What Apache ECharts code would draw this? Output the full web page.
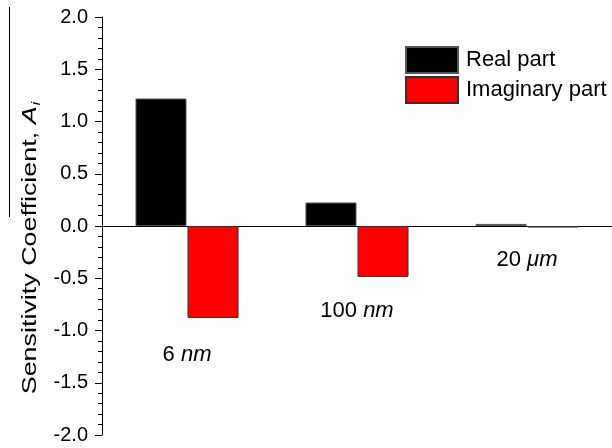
<!DOCTYPE html>
<html>
<head>
<meta charset="utf-8">
<script src="https://cdn.jsdelivr.net/npm/echarts@6/dist/echarts.min.js"></script>
<style>html,body{margin:0;padding:0;background:#fff}#c{width:612px;height:448px}</style>
</head>
<body>
<div id="c"></div>
<script>
var categories = ['6 nm', '100 nm', '20 μm'];
var realPart = [1.22, 0.225, 0.02];
var imagPart = [-0.88, -0.487, -0.015];
var labelNums = ['6', '100', '20'];
var labelUnits = ['nm', 'nm', 'μm'];
var labelY = [-1.23, -0.81, -0.32];
var seriesNames = ['Real part', 'Imaginary part'];

var FONT = 'Liberation Sans, Arial, sans-serif';
var chart = echarts.init(document.getElementById('c'), null, {renderer: 'canvas'});

chart.setOption({
  animation: false,
  backgroundColor: '#fff',
  grid: {left: 102, top: 17, bottom: 13, width: 514},
  legend: {
    orient: 'vertical', left: 405, top: 46, padding: 0,
    itemWidth: 52, itemHeight: 26, itemGap: 2, icon: 'rect',
    textStyle: {fontFamily: FONT, fontSize: 22, color: '#000', padding: [0, 0, 0, 3]},
    data: seriesNames
  },
  xAxis: {
    type: 'category', data: categories,
    axisLine: {onZero: true, lineStyle: {color: '#000', width: 1}},
    axisTick: {show: false}, axisLabel: {show: false}, splitLine: {show: false}
  },
  yAxis: {
    type: 'value', min: -2, max: 2, interval: 0.5,
    axisLine: {show: true, lineStyle: {color: '#000', width: 1}},
    axisTick: {show: true, length: 7, lineStyle: {color: '#000'}},
    minorTick: {show: true, splitNumber: 5, length: 4, lineStyle: {color: '#000'}},
    splitLine: {show: false},
    axisLabel: {fontFamily: FONT, fontSize: 20, color: '#000', margin: 14,
      formatter: function (v) { return v.toFixed(1); }}
  },
  series: [
    {
      name: seriesNames[0], type: 'bar', data: realPart, barWidth: 51, barGap: '2%',
      itemStyle: {color: '#000', borderColor: '#555', borderWidth: 1}
    },
    {
      name: seriesNames[1], type: 'bar', data: imagPart, barWidth: 51, barGap: '2%',
      itemStyle: {color: '#ff0000', borderColor: '#333', borderWidth: 1}
    },
    {
      name: 'labels', type: 'scatter', data: labelY, symbolSize: 0, silent: true,
      itemStyle: {opacity: 1, color: '#000'},
      label: {
        show: true, position: 'inside', color: '#000', opacity: 1,
        formatter: function (p) {
          return '{n|' + labelNums[p.dataIndex] + ' }{u|' + labelUnits[p.dataIndex] + '}';
        },
        rich: {
          n: {fontFamily: FONT, fontSize: 22, color: '#000'},
          u: {fontFamily: FONT, fontSize: 22, fontStyle: 'italic', color: '#000'}
        }
      }
    }
  ],
  graphic: [
    {type: 'line', shape: {x1: 9.5, y1: 7, x2: 9.5, y2: 217}, style: {stroke: '#000', lineWidth: 1}},
    {
      type: 'text', x: 30, y: 248, rotation: Math.PI / 2, scaleX: 1.28,
      style: {
        text: '{a|Sensitivity Coefficient, }{b|A}{c|i}',
        align: 'center', verticalAlign: 'middle',
        rich: {
          a: {fontFamily: FONT, fontSize: 21, fill: '#000', lineHeight: 26},
          b: {fontFamily: FONT, fontSize: 21, fontStyle: 'italic', fill: '#000', lineHeight: 26},
          c: {fontFamily: FONT, fontSize: 12, fontStyle: 'italic', fill: '#000', verticalAlign: 'bottom', lineHeight: 14, padding: [12, 0, 0, 1]}
        }
      }
    }
  ]
});
</script>
</body>
</html>
